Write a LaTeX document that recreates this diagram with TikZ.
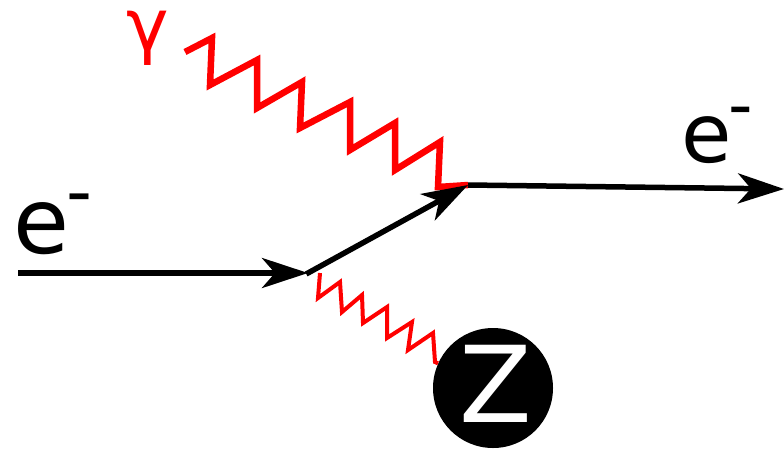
\documentclass[tikz,border=0pt]{standalone}
\usepackage{fontspec}
\setmainfont{DejaVu Sans}
\usetikzlibrary{arrows.meta}
\tikzset{
  fermion/.style={line width=5.5pt, black, -{Stealth[length=46pt, width=30pt, inset=13pt]}},
  photonline/.style={line width=6.5pt, red, line join=miter},
  zline/.style={line width=4pt, red, line join=miter},
  lbl/.style={inner sep=0pt, anchor=base west},
}
\begin{document}
\begin{tikzpicture}[x=1pt, y=-1pt]
\useasboundingbox (0,0) rectangle (784,451);
\coordinate (start) at (18,273);
\coordinate (v1) at (308,273);
\coordinate (v2) at (468,185);
\coordinate (out) at (784,189);
% Z boson blob
\node[circle, fill=black, minimum size=120pt, inner sep=0pt] (zb) at (493,388) {};
\node[text=white, inner sep=0pt] (zt) at (496,384) {\fontsize{106}{106}\selectfont Z};
% photon gamma
\draw[photonline] (185,52) -- (212,38) -- (210,85) -- (257,60) -- (257,108) -- (302,82) -- (300,128) -- (350,102) -- (350,150) -- (395,123) -- (395,170) -- (440,142) -- (438,187) -- (v2);
% Z line
\draw[zline] (320,273) -- (318,298) -- (340,282) -- (342,312) -- (362,295) -- (363,323) -- (387,307) -- (387,338) -- (412,322) -- (408,350) -- (433,333) -- (435,362) -- (zb);
% fermion lines
\draw[fermion] (start) -- (v1);
\draw[fermion, shorten <=-2pt] (v1) -- (v2);
\draw[fermion] (v2) -- (out);
% labels
\node[lbl] (ein) at (13,253) {\fontsize{91}{91}\selectfont e\kern-3pt\raisebox{37pt}{\fontsize{72}{72}\selectfont -}};
\node[lbl] (eout) at (681,162) {\fontsize{82}{82}\selectfont e\kern-3pt\raisebox{34pt}{\fontsize{68}{68}\selectfont -}};
\node[lbl, text=red] (gam) at (126,50) {\fontsize{72}{72}\selectfont \smash{γ}};
\end{tikzpicture}
\end{document}
